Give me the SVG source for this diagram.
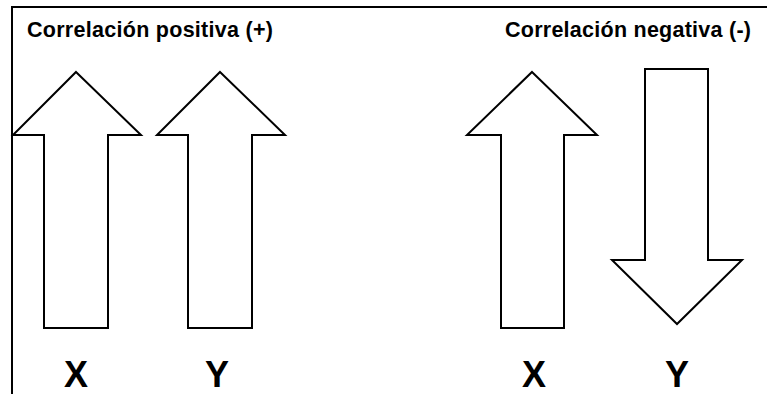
<svg xmlns="http://www.w3.org/2000/svg" width="767" height="394" viewBox="0 0 767 394">
<style>
.arrow{fill:#fff;stroke:#000;stroke-width:2;stroke-linejoin:miter}
.title{font-family:"Liberation Sans",Arial,sans-serif;font-weight:bold;font-size:21.5px;fill:#000}
.lbl{font-family:"Liberation Sans",Arial,sans-serif;font-weight:bold;font-size:36px;fill:#000;text-anchor:middle}
</style>
<rect width="767" height="394" fill="#fff"/>
<path d="M12 394 V7 H767" fill="none" stroke="#000" stroke-width="2"/>
<text class="title" x="27" y="37" textLength="246">Correlación positiva (+)</text>
<text class="title" x="505" y="37" textLength="246">Correlación negativa (-)</text>
<g id="pos-x"><polygon class="arrow" points="76,72 141,135 108,135 108,328 44,328 44,135 13,135"/></g>
<g id="pos-y"><polygon class="arrow" points="220,72 285,135 252,135 252,328 188,328 188,135 157,135"/></g>
<g id="neg-x"><polygon class="arrow" points="532,72 597,135 564,135 564,328 501,328 501,135 467,135"/></g>
<g id="neg-y"><polygon class="arrow" points="645,69 708,69 708,260 742,260 677,324 612,260 645,260"/></g>
<text class="lbl" x="76" y="387">X</text>
<text class="lbl" x="217" y="387">Y</text>
<text class="lbl" x="534" y="387">X</text>
<text class="lbl" x="677" y="387">Y</text>
</svg>
